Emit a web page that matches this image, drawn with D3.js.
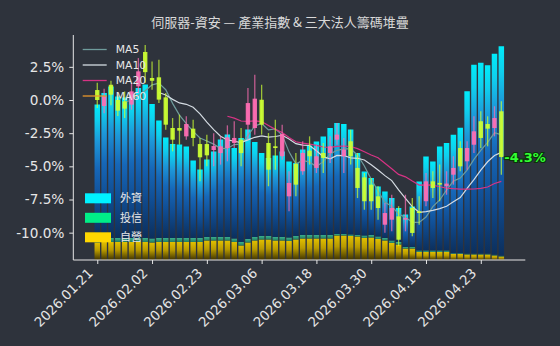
<!DOCTYPE html>
<html><head><meta charset="utf-8">
<script src="https://cdn.jsdelivr.net/npm/d3@7"></script>
<style>
html,body{margin:0;padding:0;background:#2e333c;}
svg{display:block;}
</style></head><body>
<svg id="chart" width="560" height="346"></svg>
<script>
// ---------------- DATA ----------------
const dates = ["2026.01.21","2026.01.22","2026.01.23","2026.01.26","2026.01.27","2026.01.28","2026.01.29","2026.01.30",
"2026.02.02","2026.02.03","2026.02.04","2026.02.05","2026.02.06","2026.02.09","2026.02.10","2026.02.11",
"2026.02.23","2026.02.24","2026.02.25","2026.02.26","2026.03.02","2026.03.03","2026.03.04","2026.03.05",
"2026.03.06","2026.03.09","2026.03.10","2026.03.11","2026.03.12","2026.03.13","2026.03.16","2026.03.17",
"2026.03.18","2026.03.19","2026.03.20","2026.03.23","2026.03.24","2026.03.25","2026.03.26","2026.03.27",
"2026.03.30","2026.03.31","2026.04.01","2026.04.02","2026.04.07","2026.04.08","2026.04.09","2026.04.10",
"2026.04.13","2026.04.14","2026.04.15","2026.04.16","2026.04.17","2026.04.20","2026.04.21","2026.04.22",
"2026.04.23","2026.04.24","2026.04.27","2026.04.28"];

// industry index, % vs first close
const openPct  = [0.75,-0.45,1.15,0.0,-0.1,-0.35,1.03,3.62,1.66,1.71, 0.2,-2.11,-2.11,-2.74,-2.16,-3.32,-3.32,-3.77,-4.0,-3.62,
 -3.24,-2.99,-1.86,-2.11,0.02,-3.24,-3.49,-4.24,-7.26,-4.82, -5.37,-3.82,-5.12,-3.99,-3.99,-2.99,-4.24,-3.11,-5.12,-5.83,
 -6.38,-7.26,-9.4,-9.02,-8.77,-9.02,-8.14,-8.39,-7.63,-6.13, -6.25,-6.5,-5.63,-3.62,-4.62,-3.37,-1.6,-1.81,-2.11,-0.85];
const highPct  = [1.3,0.85,1.45,0.4,0.65,1.28,3.16,4.15,2.9,3.04, 0.53,-1.36,-1.1,-1.23,-1.48,-2.86,-2.61,-2.5,-2.74,-1.91,
 -1.6,-2.11,0.9,1.9,1.15,-2.49,-1.48,-1.86,-5.37,-3.99, -3.11,-2.74,-3.37,-3.24,-2.74,-1.73,-2.86,-2.24,-4.0,-5.5,
 -5.88,-6.5,-7.76,-7.14,-8.0,-7.14,-7.39,-7.26,-5.5,-5.37, -4.87,-5.37,-4.24,-3.11,-3.11,-1.23,-0.85,-1.23,-0.47,-0.1];
const lowPct   = [-0.6,-1.0,-0.4,-1.2,-1.35,-0.73,0.53,1.3,0.78,-0.23, -2.24,-3.87,-3.37,-2.99,-3.49,-6.13,-5.0,-5.0,-4.87,-4.62,
 -3.62,-5.0,-2.99,-2.61,-2.61,-6.5,-5.25,-4.5,-8.39,-7.26, -5.63,-4.87,-5.5,-5.5,-4.75,-3.37,-5.5,-4.87,-7.39,-8.27,
 -8.27,-9.02,-10.0,-9.9,-11.0,-9.9,-10.27,-9.4,-8.0,-7.39, -7.63,-7.14,-6.38,-5.37,-5.25,-3.99,-3.62,-3.49,-2.74,-5.63];
const closePct = [0.0,0.3,0.4,-0.8,-0.65,0.65,2.16,2.1,1.45,0.03, -1.86,-2.99,-2.31,-1.81,-2.86,-4.32,-4.17,-3.47,-3.49,-2.81,
 -2.86,-4.0,-0.23,0.1,-1.86,-5.25,-3.62,-2.56,-6.25,-6.38, -3.99,-4.24,-4.24,-4.37,-3.49,-2.61,-3.74,-4.24,-6.63,-7.63,
 -7.63,-8.14,-8.52,-8.14,-10.53,-8.9,-10.02,-8.52,-6.13,-6.63, -6.38,-6.3,-5.12,-5.0,-3.62,-2.36,-2.86,-2.16,-1.36,-4.3];

// institutional chip stack (arbitrary units)
const chipForeign = [26.8,29.0,30.3,28.3,28.1,28.7,30.0,30.7,26.9,23.5, 20.1,18.8,18.7,18.3,15.5,13.7,15.5,17.1,19.5,20.5,
 18.1,20.8,21.9,19.0,16.6,15.6,16.3,17.1,15.2,14.6, 17.1,17.9,18.7,19.7,21.4,22.2,22.0,21.0,16.4,12.8,
 11.4,10.0,9.3,8.5,6.8,6.5,8.1,13.8,18.8,17.8, 20.8,21.5,23.7,25.1,32.5,37.8,38.2,37.7,40.2,41.9];
const chipTrust = [0.8,0.8,0.8,0.8,0.8,0.8,0.8,0.8,0.8,0.8, 0.8,0.8,0.8,0.8,0.8,0.8,0.7,0.7,0.7,0.7,
 0.7,0.7,0.7,0.7,0.7,0.7,0.7,0.7,0.7,0.7, 0.7,0.7,0.7,0.7,0.7,0.3,0.3,0.3,0.3,0.5,
 0.5,0.5,0.5,0.5,0.5,0.3,0.3,0.3,0.3,0.3, 0.3,0.3,0.15,0.15,0.15,0.15,0.15,0.15,0.15,0.15];
const chipDealer = [3.5,3.6,3.6,3.6,3.6,3.6,3.6,3.6,3.5,3.6, 3.6,3.6,3.6,3.6,3.6,3.6,3.9,3.9,3.9,3.9,
 3.6,2.9,3.5,3.9,4.1,4.1,3.9,3.9,3.8,4.1, 4.3,4.3,4.3,4.3,4.3,4.9,4.9,4.8,4.7,4.4,
 4.5,4.2,3.9,3.4,3.1,2.3,2.3,1.6,1.6,1.6, 1.6,1.6,1.2,1.2,1.1,1.1,1.1,1.1,0.9,0.7];

const chipNames = ["外資","投信","自營"];
const maNames = ["MA5","MA10","MA20","MA60"];
const maPeriods = [5,10,20,60];
const yTickValues = [2.5,0,-2.5,-5,-7.5,-10];
const xTickLabels = dates.filter((d,i)=>i%8===0);
const titleText = "伺服器-資安 — 產業指數 & 三大法人籌碼堆疊";

// ---------------- STYLE ----------------
const W=560,H=346;
const L=73.3,R=525.3,T=35,B=260;
const bg="#2e333c";
const upColor="#ff6eb4", downColor="#ccff33";
const maColors=["#6f9c9c","#d4dbe2","#d63384","#e8962a"];
const chipColors=["#00f2ff","#00ee88","#ffd700"];

const svg=d3.select("#chart");
svg.append("rect").attr("width",W).attr("height",H).attr("fill",bg);

const defs=svg.append("defs");
function grad(id,stops){
  const g=defs.append("linearGradient").attr("id",id).attr("x1",0).attr("y1",0).attr("x2",0).attr("y2",1);
  stops.forEach(s=>g.append("stop").attr("offset",s[0]).attr("stop-color",s[1]));
}
grad("gF",[[0,"#00ecfa"],[0.12,"#0fd0ee"],[0.28,"#1d96d8"],[0.48,"#1667b8"],[0.72,"#104d93"],[1,"#0c2f5c"]]);
grad("gT",[[0,"#3cb08c"],[1,"#1f7a62"]]);
grad("gD",[[0,"#e2c000"],[0.45,"#b89a00"],[1,"#3e3200"]]);

// ---------------- SCALES ----------------
const x=d3.scalePoint().domain(dates).range([L,R]).padding(3.5);
const step=x.step();
const y=d3.scaleLinear().domain([-12.06,4.9]).range([B,T]);
const yChip=d3.scaleLinear().domain([0,45]).range([B,T]);

// ---------------- CHIP BARS ----------------
const rows=dates.map((d,i)=>({date:d,dealer:chipDealer[i],trust:chipTrust[i],foreign:chipForeign[i]}));
const stack=d3.stack().keys(["dealer","trust","foreign"])(rows);
const fills={dealer:"url(#gD)",trust:"url(#gT)",foreign:"url(#gF)"};
const bw=step*0.8;
const gBars=svg.append("g");
stack.forEach(layer=>{
  gBars.append("g").selectAll("rect").data(layer).join("rect")
   .attr("x",d=>x(d.data.date)-bw/2).attr("width",bw)
   .attr("y",d=>yChip(d[1])).attr("height",d=>Math.max(0,yChip(d[0])-yChip(d[1])))
   .attr("fill",fills[layer.key]);
});

// ---------------- MA LINES ----------------
function movingAvg(arr,n){return arr.map((v,i)=>i<n-1?null:d3.mean(arr.slice(i-n+1,i+1)));}
const gMA=svg.append("g");
maPeriods.forEach((p,k)=>{
  const vals=movingAvg(closePct,p);
  const line=d3.line().defined(d=>d[1]!=null).x(d=>x(d[0])).y(d=>y(d[1]));
  gMA.append("path").datum(dates.map((d,i)=>[d,vals[i]]))
   .attr("d",line).attr("fill","none").attr("stroke",maColors[k]).attr("stroke-width",1.2);
});

// ---------------- CANDLES ----------------
const cw=step*0.64;
const gC=svg.append("g");
dates.forEach((d,i)=>{
  const up=closePct[i]>=openPct[i];
  const col=up?upColor:downColor;
  const cx=x(d);
  gC.append("line").attr("x1",cx).attr("x2",cx).attr("y1",y(highPct[i])).attr("y2",y(lowPct[i]))
    .attr("stroke",col).attr("stroke-width",1.3).attr("stroke-opacity",0.7);
  const top=y(Math.max(openPct[i],closePct[i])), bot=y(Math.min(openPct[i],closePct[i]));
  gC.append("rect").attr("x",cx-cw/2).attr("width",cw).attr("y",top).attr("height",Math.max(1,bot-top))
    .attr("fill",col).attr("fill-opacity",0.93);
});

// ---------------- AXES ----------------
const axisColor="#e6e6e6";
const gy=svg.append("g").attr("transform",`translate(${L},0)`)
  .call(d3.axisLeft(y).tickValues(yTickValues).tickFormat(d=>d.toFixed(1)+"%").tickSize(4).tickSizeOuter(0).tickPadding(5));
gy.select(".domain").remove();
gy.selectAll("line").attr("stroke",axisColor);
gy.selectAll("text").attr("fill",axisColor).style("font-family","DejaVu Sans").style("font-size","13.6px");

const gx=svg.append("g").attr("transform",`translate(0,${B})`)
  .call(d3.axisBottom(x).tickValues(xTickLabels).tickSize(4).tickSizeOuter(0));
gx.select(".domain").remove();
gx.selectAll("line").attr("stroke",axisColor);
gx.selectAll("text").attr("fill",axisColor).style("font-family","DejaVu Sans").style("font-size","13.3px")
  .attr("y",0).attr("dy",0).attr("x",0).attr("text-anchor","end")
  .attr("transform","translate(-4,14) rotate(-45)");

svg.append("line").attr("x1",L).attr("x2",L).attr("y1",T).attr("y2",B).attr("stroke",axisColor).attr("stroke-width",1);
svg.append("line").attr("x1",L).attr("x2",R).attr("y1",B).attr("y2",B).attr("stroke",axisColor).attr("stroke-width",1);

// ---------------- LEGENDS ----------------
const gL1=svg.append("g");
maNames.forEach((n,k)=>{
  const yy=49.5+k*15.5;
  gL1.append("line").attr("x1",82.7).attr("x2",106.7).attr("y1",yy).attr("y2",yy).attr("stroke",maColors[k]).attr("stroke-width",1.3);
  gL1.append("text").attr("x",115.7).attr("y",yy).attr("dy","0.36em").text(n)
    .attr("fill","#e6e6e6").style("font-family","DejaVu Sans").style("font-size","10.8px");
});
const gL2=svg.append("g");
chipNames.forEach((n,k)=>{
  const yy=198.3+k*19.5;
  gL2.append("rect").attr("x",85).attr("y",yy-5).attr("width",26).attr("height",10).attr("fill",chipColors[k]);
  gL2.append("text").attr("x",120).attr("y",yy).attr("dy","0.36em").text(n)
    .attr("fill","#e6e6e6").style("font-family","'Noto Sans CJK TC'").style("font-size","11px");
});

// ---------------- TITLE & LAST LABEL ----------------
svg.append("text").attr("x",280).attr("y",26.5).attr("text-anchor","middle").text(titleText)
  .attr("fill","#d9d9d9").style("font-family","'Noto Sans CJK TC'").style("font-size","13px");

const lastIdx=dates.length-1;
svg.append("text").attr("x",x(dates[lastIdx])+3).attr("y",y(closePct[lastIdx])).attr("dy","0.36em")
  .text(closePct[lastIdx].toFixed(1)+"%")
  .attr("fill","#33ff33").attr("stroke","#0a330a").attr("stroke-width",2.2).style("paint-order","stroke")
  .style("font-family","DejaVu Sans").style("font-weight","bold").style("font-size","13px");
</script>
</body></html>
